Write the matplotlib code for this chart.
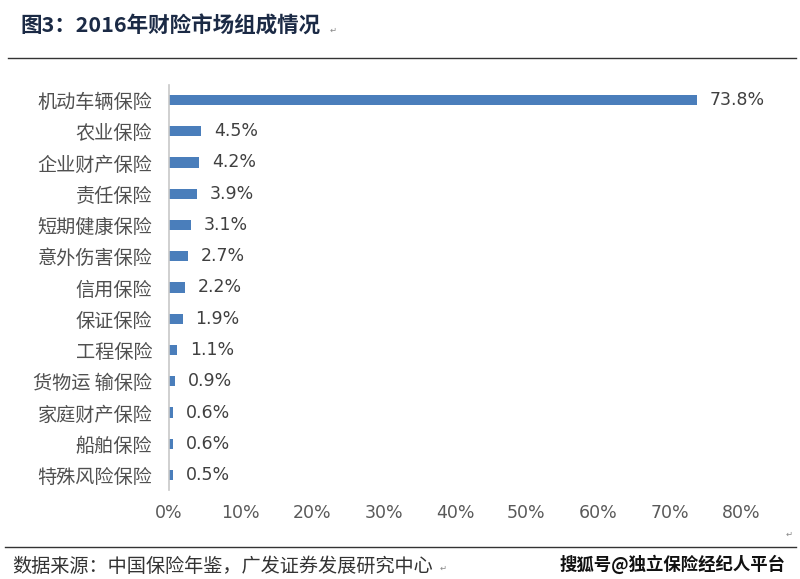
import matplotlib
matplotlib.use("Agg")
import matplotlib.pyplot as plt
from matplotlib.lines import Line2D

plt.rcParams['font.family'] = ['Noto Sans CJK SC', 'DejaVu Sans']

categories = ["机动车辆保险", "农业保险", "企业财产保险", "责任保险", "短期健康保险",
              "意外伤害保险", "信用保险", "保证保险", "工程保险", "货物运 输保险",
              "家庭财产保险", "船舶保险", "特殊风险保险"]
values = [73.8, 4.5, 4.2, 3.9, 3.1, 2.7, 2.2, 1.9, 1.1, 0.9, 0.6, 0.6, 0.5]
xticks = [0, 10, 20, 30, 40, 50, 60, 70, 80]
xticklabels = [f"{t}%" for t in xticks]
title = "图3：2016年财险市场组成情况"
source = "数据来源：中国保险年鉴，广发证券发展研究中心"
watermark = "搜狐号@独立保险经纪人平台"

W, H = 800, 579
fig = plt.figure(figsize=(W / 100, H / 100), dpi=100)

ax = fig.add_axes([169 / W, 1 - 490 / H, (741 - 169) / W, (490 - 85) / H])
ypos = list(range(len(categories)))
ax.barh(ypos, values, height=0.33, color="#4a7ebb")
ax.set_ylim(len(categories) - 0.52, -0.48)
ax.set_xlim(0, 80)
ax.set_yticks(ypos)
ax.set_yticklabels(categories, fontsize=13.8, color="#505050")
ax.set_xticks(xticks)
ax.set_xticklabels(xticklabels, fontsize=12.5, color="#595959",
                   family=["DejaVu Sans"])
ax.tick_params(axis="both", length=0)
ax.tick_params(axis="y", pad=12)
ax.tick_params(axis="x", pad=10)
for s in ["top", "right", "bottom"]:
    ax.spines[s].set_visible(False)
ax.spines["left"].set_color("#c8c8c8")
ax.spines["left"].set_linewidth(1.2)
for y, v in zip(ypos, values):
    ax.text(v + 1.8, y, f"{v}%", va="center", ha="left", fontsize=12.5,
            color="#404040", family=["DejaVu Sans"])

# title and rules
fig.text(20 / W, 1 - 26 / H, title, fontsize=15.5, fontweight="bold",
         color="#1b2a45", va="center", ha="left")
fig.text(330 / W, 1 - 30 / H, "↵", fontsize=6, color="#888888", va="center",
         family=["DejaVu Sans"])
fig.add_artist(Line2D([8 / W, 796 / W], [1 - 58 / H, 1 - 58 / H], color="#333333", lw=1.0))
fig.add_artist(Line2D([5 / W, 796 / W], [1 - 547 / H, 1 - 547 / H], color="#333333", lw=1.0))
fig.text(786 / W, 1 - 534 / H, "↵", fontsize=6, color="#888888", va="center",
         family=["DejaVu Sans"])

fig.text(12 / W, 1 - 566 / H, source, fontsize=13.8, color="#333333",
         va="center", ha="left")
fig.text(440 / W, 1 - 568 / H, "↵", fontsize=6, color="#888888", va="center",
         family=["DejaVu Sans"])
fig.text(560 / W, 1 - 564 / H, watermark, fontsize=12.5, fontweight="bold",
         color="#111111", va="center", ha="left")

fig.savefig("out.png", dpi=100)
